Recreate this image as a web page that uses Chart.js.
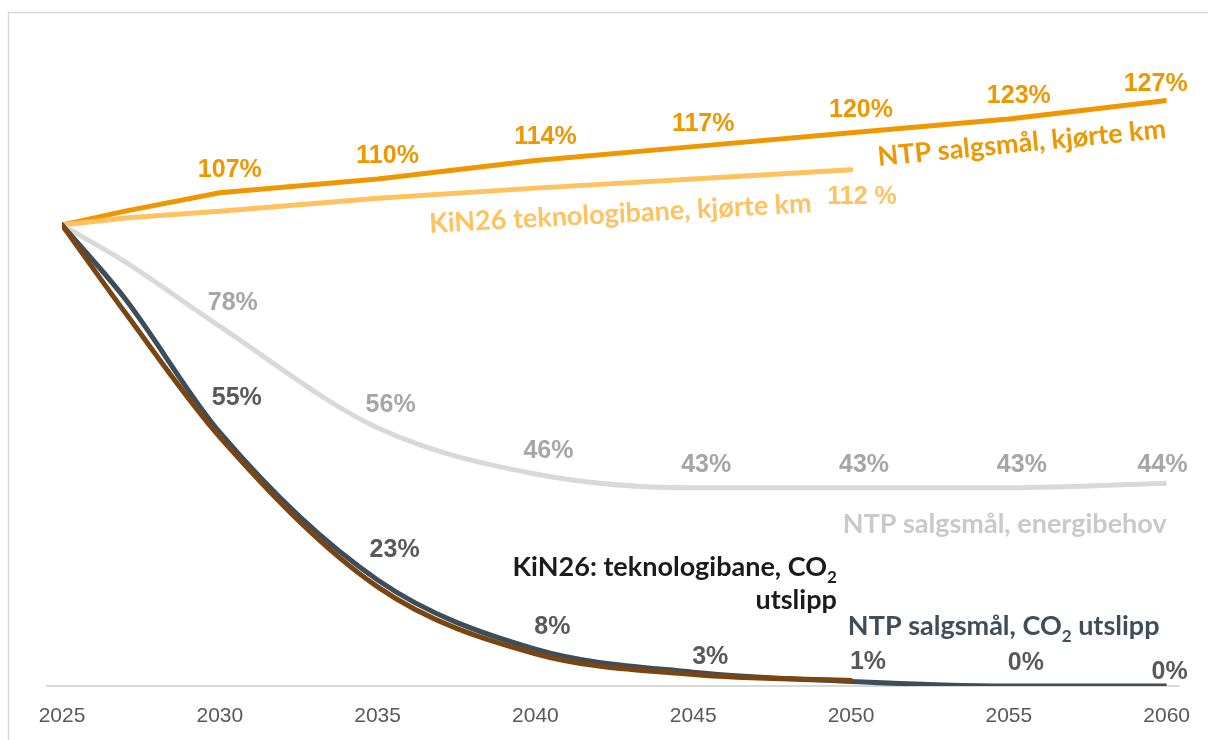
<!DOCTYPE html>
<html lang="nb">
<head>
  <meta charset="UTF-8">
  <title>Kjørte km, energibehov og CO2-utslipp</title>
  <script src="https://cdn.jsdelivr.net/npm/chart.js@4.4.1/dist/chart.umd.min.js"></script>
  <style>
    body { margin: 0; background: #fff; }
    #wrap { width: 1208px; height: 740px; }
  </style>
</head>
<body>
  <div id="wrap"><canvas id="chart" width="1208" height="740"></canvas></div>

  <script>
    // Index, 2025 = 100 %
    const years     = [2025, 2027, 2030, 2035, 2040, 2045, 2050, 2055, 2060];
    const ntpKm     = [100, 103, 107, 110, 114, 117, 120, 123, 127];
    const kinKm     = [100, 101.5, 103, 105.8, 108, 110, 112, null, null];
    const ntpEnergi = [100, 92, 78, 56, 46, 43, 43, 43, 44];
    const ntpCo2    = [100, 84, 55, 23, 8, 3, 1, 0, 0];
    const kinCo2    = [100, 81, 54, 21.5, 7, 2.5, 1.2, null, null];

    const labelYears = [2030, 2035, 2040, 2045, 2050, 2055, 2060];

    const ORANGE = '#EF9700';
    const LIGHT_ORANGE = '#FFC25E';
    const GREY = '#D9D9D9';
    const SLATE = '#3D4E5A';
    const BROWN = '#7A4510';

    function points(arr) {
      return years.map((x, i) => ({ x: x, y: arr[i] })).filter(p => p.y !== null);
    }

    function line(label, arr, color, order, smooth) {
      return {
        label: label,
        data: points(arr),
        borderColor: color,
        backgroundColor: color,
        borderWidth: 5,
        pointRadius: 0,
        borderCapStyle: 'round',
        borderJoinStyle: 'round',
        tension: smooth ? 0.4 : 0,
        cubicInterpolationMode: smooth ? 'monotone' : 'default',
        order: order
      };
    }

    // value labels per series (dy may be a list, one per label year)
    const valueLabels = [
      { arr: ntpKm, years: labelYears, color: ORANGE, dx: 10, dy: -23, lastDy: -16, fmt: v => v + '%' },
      { arr: ntpEnergi, years: labelYears, color: '#A6A6A6', dx: 13, dy: -23, lastDy: -18, fmt: v => v + '%' },
      { arr: ntpCo2, years: labelYears, color: '#595959', dx: 17, dy: [-34, -30, -22, -15, -19, -23], lastDy: -14, fmt: v => v + '%' },
      { arr: kinKm, years: [2050], color: LIGHT_ORANGE, dx: 11, dy: 27, lastDy: 27, fmt: v => v + ' %' }
    ];

    // series names, anchored in data units
    const nameLabels = [
      { runs: [['NTP salgsmål, kjørte km']], x: 2060, y: 118.9, align: 'right', angle: -5.6, color: ORANGE },
      { runs: [['KiN26 teknologibane, kjørte km']], x: 2036.65, y: 98.3, align: 'left', angle: -3.1, color: LIGHT_ORANGE },
      { runs: [['NTP salgsmål, energibehov']], x: 2060, y: 33.2, align: 'right', angle: 0, color: '#C9C9C9' },
      { runs: [['KiN26: teknologibane, CO'], ['2', true]], x: 2049.55, y: 23.9, align: 'right', angle: 0, color: '#1B1B1B' },
      { runs: [['utslipp']], x: 2049.55, y: 16.8, align: 'right', angle: 0, color: '#1B1B1B' },
      { runs: [['NTP salgsmål, CO'], ['2', true], [' utslipp']], x: 2049.9, y: 11.1, align: 'left', angle: 0, color: SLATE }
    ];

    const NAME_FONT = 'Lato';
    const NAME_SIZE = 27;

    function drawRuns(ctx, runs, x, y, align, size) {
      const big = `bold ${size}px ${NAME_FONT}`;
      const small = `bold ${Math.round(size * 0.62)}px ${NAME_FONT}`;
      let w = 0;
      runs.forEach(r => { ctx.font = r[1] ? small : big; w += ctx.measureText(r[0]).width; });
      let cx = align === 'right' ? x - w : (align === 'center' ? x - w / 2 : x);
      ctx.textAlign = 'left';
      ctx.textBaseline = 'alphabetic';
      runs.forEach(r => {
        ctx.font = r[1] ? small : big;
        ctx.fillText(r[0], cx, r[1] ? y + size * 0.25 : y);
        cx += ctx.measureText(r[0]).width;
      });
    }

    const decor = {
      id: 'decor',
      beforeDraw(chart) {
        const ctx = chart.ctx;
        ctx.save();
        ctx.fillStyle = '#fff';
        ctx.fillRect(0, 0, chart.width, chart.height);
        // outer frame (only left and top visible)
        ctx.strokeStyle = '#D9D9D9';
        ctx.lineWidth = 1.5;
        ctx.beginPath();
        ctx.moveTo(8.5, chart.height);
        ctx.lineTo(8.5, 12.5);
        ctx.lineTo(chart.width, 12.5);
        ctx.stroke();
        ctx.restore();
      },
      beforeDatasetsDraw(chart) {
        const ctx = chart.ctx;
        const a = chart.chartArea;
        ctx.save();
        ctx.strokeStyle = '#D9D9D9';
        ctx.lineWidth = 2;
        ctx.beginPath();
        ctx.moveTo(a.left - 16, a.bottom);
        ctx.lineTo(a.right + 13, a.bottom);
        ctx.stroke();
        ctx.restore();
      },
      afterDatasetsDraw(chart) {
        const ctx = chart.ctx;
        const xs = chart.scales.x;
        const ys = chart.scales.y;
        ctx.save();
        ctx.font = 'bold 25px "Liberation Sans", Arial, sans-serif';
        ctx.textBaseline = 'middle';
        valueLabels.forEach(s => {
          ctx.fillStyle = s.color;
          s.years.forEach((yr, k) => {
            const i = years.indexOf(yr);
            const v = s.arr[i];
            if (v === null || v === undefined) return;
            const px = xs.getPixelForValue(yr);
            const py = ys.getPixelForValue(v);
            if (yr === years[years.length - 1]) {
              ctx.textAlign = 'right';
              ctx.fillText(s.fmt(Math.round(v)), px + 21, py + s.lastDy);
            } else {
              const dy = Array.isArray(s.dy) ? s.dy[k] : s.dy;
              ctx.textAlign = 'center';
              ctx.fillText(s.fmt(Math.round(v)), px + s.dx, py + dy);
            }
          });
        });
        nameLabels.forEach(n => {
          const px = xs.getPixelForValue(n.x);
          const py = ys.getPixelForValue(n.y);
          ctx.save();
          ctx.translate(px, py);
          ctx.rotate(n.angle * Math.PI / 180);
          ctx.fillStyle = n.color;
          drawRuns(ctx, n.runs, 0, 0, n.align, NAME_SIZE);
          ctx.restore();
        });
        ctx.restore();
      }
    };

    new Chart(document.getElementById('chart'), {
      type: 'line',
      data: {
        datasets: [
          line('NTP salgsmål, kjørte km', ntpKm, ORANGE, 4, false),
          line('KiN26 teknologibane, kjørte km', kinKm, LIGHT_ORANGE, 3, false),
          line('NTP salgsmål, energibehov', ntpEnergi, GREY, 2, true),
          line('NTP salgsmål, CO2 utslipp', ntpCo2, SLATE, 1, true),
          line('KiN26: teknologibane, CO2 utslipp', kinCo2, BROWN, 0, true)
        ]
      },
      options: {
        responsive: false,
        animation: false,
        layout: { padding: { left: 62, right: 40, top: 40.6, bottom: 0 } },
        plugins: { legend: { display: false }, tooltip: { enabled: false } },
        scales: {
          x: {
            type: 'linear',
            min: 2025,
            max: 2060,
            grid: { display: false, drawTicks: false },
            border: { display: false },
            ticks: {
              stepSize: 5,
              padding: 18,
              color: '#595959',
              font: { family: '"Liberation Sans", Arial, sans-serif', size: 21 },
              callback: v => String(v)
            },
            afterFit(scale) { scale.height = 54; }
          },
          y: {
            display: false,
            min: 0,
            max: 140
          }
        }
      },
      plugins: [decor]
    });
  </script>
</body>
</html>
